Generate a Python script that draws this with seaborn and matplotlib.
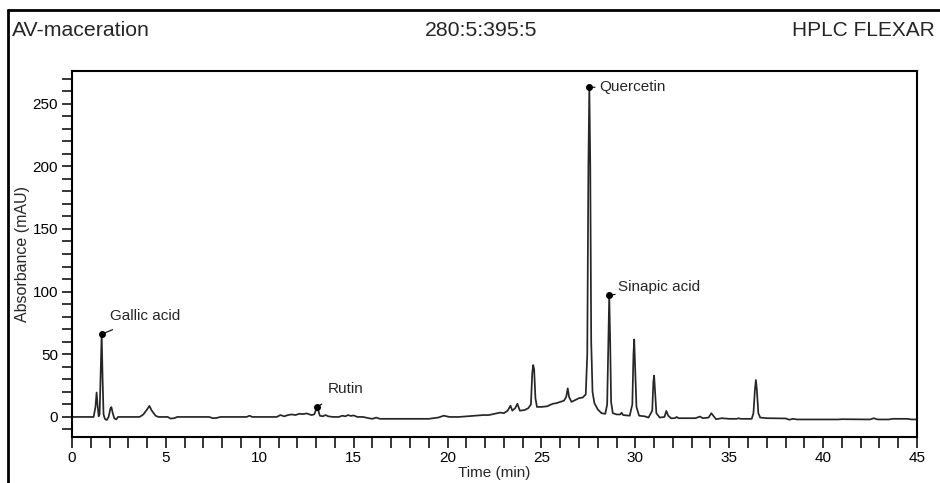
import matplotlib
matplotlib.use("Agg")
import matplotlib.pyplot as plt
from matplotlib.ticker import MultipleLocator
from matplotlib.lines import Line2D
import seaborn as sns
import pandas as pd

# ---- data (time in min, absorbance in mAU) ----
times = [0.0, 1.15, 1.25, 1.31, 1.37, 1.42, 1.47, 1.52, 1.58, 1.63, 1.68, 1.75, 1.85, 1.95,
         2.05, 2.1, 2.17, 2.25, 2.35, 2.45, 2.6, 3.6, 3.8, 4.0, 4.12, 4.25, 4.45, 4.6, 5.1,
         5.25, 5.45, 5.6, 7.3, 7.5, 7.7, 7.9, 9.3, 9.45, 9.6, 10.9, 11.1, 11.3, 11.5, 11.7,
         11.9, 12.1, 12.3, 12.5, 12.75, 12.9, 13.0, 13.06, 13.12, 13.2, 13.35, 13.5, 13.65,
         13.9, 14.2, 14.4, 14.55, 14.7, 14.85, 15.0, 15.2, 15.5, 15.8, 16.0, 16.2, 16.4, 16.6,
         19.0, 19.5, 19.8, 20.1, 20.6, 21.5, 21.9, 22.2, 22.5, 22.8, 23.0, 23.2, 23.35, 23.45,
         23.6, 23.72, 23.85, 24.1, 24.3, 24.44, 24.51, 24.56, 24.61, 24.68, 24.76, 25.0, 25.3,
         25.6, 25.8, 26.0, 26.2, 26.32, 26.4, 26.47, 26.6, 26.8, 27.0, 27.2, 27.36, 27.44,
         27.5, 27.55, 27.6, 27.65, 27.72, 27.82, 28.0, 28.2, 28.4, 28.5, 28.56, 28.61, 28.66,
         28.71, 28.8, 29.0, 29.2, 29.27, 29.35, 29.7, 29.84, 29.9, 29.94, 29.99, 30.06, 30.2,
         30.5, 30.7, 30.9, 30.96, 31.0, 31.05, 31.12, 31.3, 31.55, 31.65, 31.75, 31.9, 32.1,
         32.2, 32.3, 33.2, 33.44, 33.6, 33.9, 34.05, 34.2, 34.3, 34.6, 35.0, 35.4, 35.5, 35.6,
         36.2, 36.29, 36.37, 36.42, 36.47, 36.55, 36.65, 37.0, 38.0, 38.2, 38.4, 38.6, 40.8,
         41.0, 42.5, 42.7, 42.9, 43.5, 43.7, 44.5, 44.7, 45.0]
absorbance = [0, 0, 8, 19.5, 8, 0.5, 2, 30, 66.6, 30, 2, -1.5, -2.5, 0,
              7, 7.8, 3, -1, -2, 0, 0, 0, 2, 6, 8.8, 5, 1, 0, 0,
              -1.3, -1, 0, 0, -1, -0.8, 0, 0, 1, 0, 0, 1.5, 0.5, 1.5, 2,
              1.5, 2.5, 2.3, 2.8, 1.5, 2, 6, 9, 5, 1, 0.5, 1.5, 0.5,
              0, 0, 1, 0.5, 1.5, 0.8, 1.2, 0, 0, -1, -1.5, -0.5, -1.5, -1.5,
              -1.5, -0.5, 1, 0, 0, 1, 1.5, 1.5, 2.5, 3.5, 3, 5, 9, 5,
              7, 10.5, 5, 5.5, 7, 10, 35, 41.4, 38, 15, 8, 8, 8.5,
              10.5, 11, 12, 13, 16, 22.8, 16, 12, 13.5, 15, 15.5, 18, 50,
              200, 263.5, 200, 60, 20, 11, 6, 3, 2.5, 10, 60, 97, 60,
              12, 3, 2, 2, 3.4, 1.5, 1, 10, 50, 61.8, 40, 8, 1,
              0.5, -0.5, 5, 28, 33, 20, 3, -0.5, 0, 4.8, 1, -1, -1,
              0, -1, -1, 0.3, -1, -0.5, 3, 0, -1.8, -1, -1.5, -1.5, -1, -1.5,
              -1.5, 3, 22, 29.5, 22, 3, -0.5, -1, -1.2, -2.2, -1.5, -2, -2,
              -1.8, -2, -1, -2, -2, -1.5, -1.5, -2, -2]

peak_names = ["Gallic acid", "Rutin", "Quercetin", "Sinapic acid"]
peak_times = [1.58, 13.06, 27.55, 28.61]
peak_marks = [66.0, 8.0, 263.0, 97.0]
label_times = [2.02, 13.6, 28.1, 29.1]
label_values = [80.4, 22.0, 263.5, 103.7]

x_ticks = [0, 5, 10, 15, 20, 25, 30, 35, 40, 45]
y_ticks = [0, 50, 100, 150, 200, 250]

df = pd.DataFrame({"Time (min)": times, "Absorbance (mAU)": absorbance})

sns.set_style("ticks")
plt.rcParams["font.family"] = ["Liberation Sans", "DejaVu Sans"]

fig = plt.figure(figsize=(9.4, 4.83), dpi=100)
ax = fig.add_axes([72 / 940, 1 - 437 / 483, (917 - 72) / 940, (437 - 71) / 483])

sns.lineplot(data=df, x="Time (min)", y="Absorbance (mAU)", ax=ax,
             color="#262626", linewidth=1.25, sort=False)

ax.set_xlim(0, 45)
ax.set_ylim(-16, 276)
ax.set_xticks(x_ticks)
ax.set_yticks(y_ticks)
ax.xaxis.set_minor_locator(MultipleLocator(1))
ax.yaxis.set_minor_locator(MultipleLocator(10))
ax.tick_params(axis="x", which="both", direction="out", length=8, width=1.1,
               labelsize=11, pad=2, colors="black")
ax.tick_params(axis="y", which="both", direction="out", length=7, width=1.1,
               labelsize=11, pad=3, colors="black")
for s in ax.spines.values():
    s.set_visible(True)
    s.set_linewidth(1.5)
    s.set_color("black")

ax.set_xlabel("Time (min)", fontsize=11, labelpad=1)
ax.set_ylabel("Absorbance (mAU)", fontsize=11.5, labelpad=2)

# peak markers and labels
for name, t, v, lt, lv in zip(peak_names, peak_times, peak_marks, label_times, label_values):
    ax.plot([t], [v], "o", color="black", markersize=4, zorder=5)
    shrink_a = 1 if name == "Quercetin" else 6
    ax.annotate(name, xy=(t, v), xytext=(lt, lv), fontsize=11, va="center", ha="left",
                arrowprops=dict(arrowstyle="-", color="black", lw=0.8,
                                shrinkA=shrink_a, shrinkB=0))

# header texts
fig.text(12 / 940, 1 - 30 / 483, "AV-maceration", fontsize=15.3, va="center", ha="left")
fig.text(481 / 940, 1 - 30 / 483, "280:5:395:5", fontsize=15.3, va="center", ha="center")
fig.text(792 / 940, 1 - 30 / 483, "HPLC FLEXAR", fontsize=15, va="center", ha="left")

# outer frame (left and top edges visible)
fig.add_artist(Line2D([8 / 940, 8 / 940], [0, 1 - 10 / 483], color="black", lw=2,
                      transform=fig.transFigure))
fig.add_artist(Line2D([8 / 940, 1], [1 - 10 / 483, 1 - 10 / 483], color="black", lw=2,
                      transform=fig.transFigure))

fig.savefig("out.png", dpi=100)
